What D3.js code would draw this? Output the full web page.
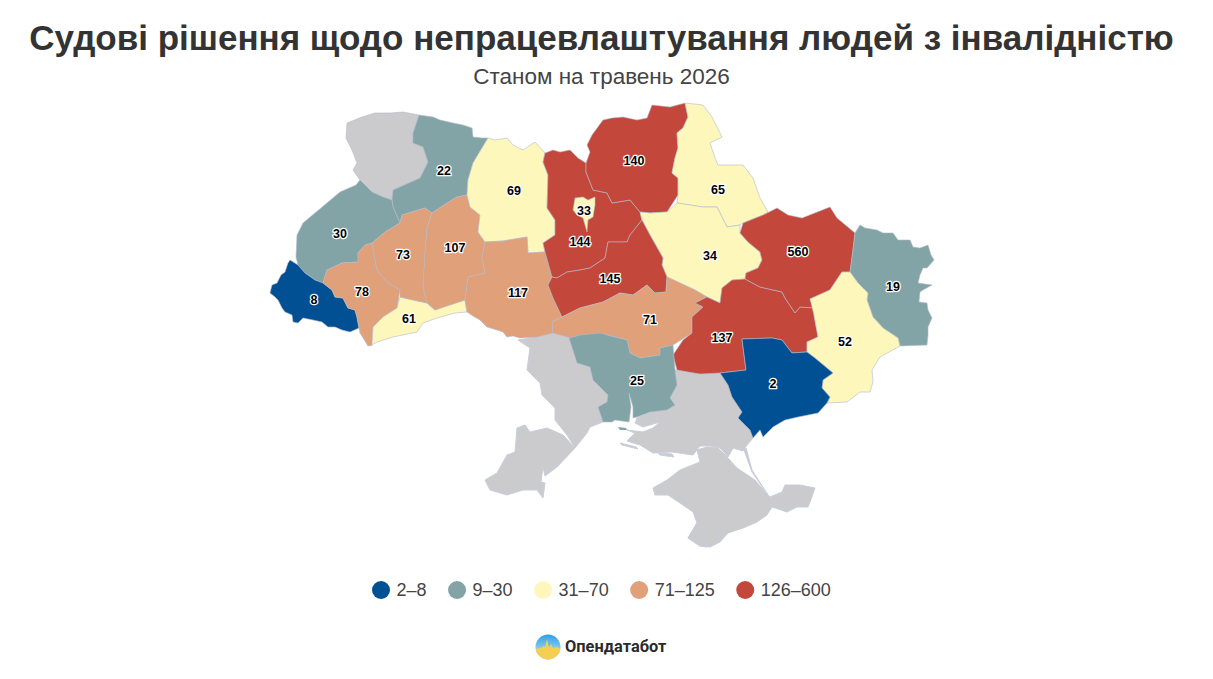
<!DOCTYPE html>
<html>
<head>
<meta charset="utf-8">
<script src="https://cdn.jsdelivr.net/npm/d3@7"></script>
<style>
  html, body { margin: 0; background: #fff; }
  svg { display: block; font-family: "Liberation Sans", Arial, sans-serif; }
</style>
</head>
<body>
<svg id="chart" width="1213" height="679"></svg>
<script>
const titleText = "Судові рішення щодо непрацевлаштування людей з інвалідністю";
const subtitleText = "Станом на травень 2026";

const regionNames = ["Волинська", "Рівненська", "Львівська", "Закарпатська", "Івано-Франківська",
  "Чернівецька", "Тернопільська", "Хмельницька", "Житомирська", "Вінницька", "Київська", "Київ",
  "Чернігівська", "Сумська", "Полтавська", "Черкаська", "Кіровоградська", "Дніпропетровська",
  "Харківська", "Луганська", "Донецька", "Запорізька", "Миколаївська"];
const regionValues = [null, 22, 30, 8, 78, 61, 73, 107, 69, 117, 144, 33, 140, 65, 34, 145, 71, 137, 560, 19, 52, 2, 25];

const legendLabels = ["2–8", "9–30", "31–70", "71–125", "126–600"];
const legendBreaks = [9, 31, 71, 126];
const legendColors = ["#005093", "#82a4a6", "#fef7bc", "#e0a07a", "#c4473b"];
const noDataColor = "#cbcbcd";

// outlines, in map units
const outlines = {
  "Волинська": [[347,123],[362,117],[375,113],[390,113],[403,112],[419,115],[413,133],[413,143],[423,147],[428,162],[420,178],[393,190],[392,200],[383,197],[372,192],[360,180],[353,170],[357,163],[352,150],[346,138]],
  "Рівненська": [[419,115],[433,117],[440,120],[453,123],[463,125],[472,128],[473,137],[482,138],[488,138],[482,148],[473,163],[468,180],[467,195],[457,197],[447,203],[432,213],[425,208],[402,215],[400,223],[393,207],[392,200],[393,190],[420,178],[428,162],[423,147],[413,143],[413,133]],
  "Львівська": [[296,257],[298,265],[305,273],[315,280],[323,283],[327,270],[342,263],[358,262],[358,253],[365,245],[372,243],[385,232],[400,223],[393,207],[392,200],[383,197],[372,192],[360,180],[356,185],[340,192],[327,203],[303,223],[297,235]],
  "Закарпатська": [[290,260],[298,265],[305,273],[315,280],[323,283],[332,290],[335,297],[343,298],[348,308],[355,310],[357,317],[359,328],[350,332],[342,330],[335,327],[328,327],[322,322],[313,320],[303,318],[298,323],[293,322],[292,315],[285,312],[282,308],[278,300],[275,297],[270,293],[272,285],[277,283],[281,275],[285,272],[288,263]],
  "Івано-Франківська": [[323,283],[327,270],[342,263],[358,262],[358,253],[365,245],[372,243],[375,260],[377,270],[387,282],[400,290],[397,308],[383,317],[373,327],[372,345],[368,346],[360,333],[359,328],[357,317],[355,310],[348,308],[343,298],[335,297],[332,290]],
  "Чернівецька": [[400,297],[413,300],[427,303],[435,310],[448,305],[465,300],[467,312],[455,313],[437,318],[423,323],[417,332],[393,337],[377,342],[370,346],[372,345],[373,327],[383,317],[397,308]],
  "Тернопільська": [[372,243],[385,232],[400,223],[402,215],[425,208],[432,213],[427,228],[425,253],[423,287],[427,303],[413,300],[400,297],[400,290],[387,282],[377,270],[375,260]],
  "Хмельницька": [[432,213],[447,203],[457,197],[467,195],[470,207],[480,215],[478,232],[485,242],[482,257],[485,273],[468,277],[465,300],[435,310],[427,303],[423,287],[425,253],[427,228]],
  "Житомирська": [[488,138],[495,140],[507,138],[513,145],[523,150],[535,142],[545,153],[543,162],[548,175],[547,208],[555,220],[555,235],[543,243],[545,252],[528,253],[527,237],[503,241],[485,242],[478,232],[480,215],[470,207],[467,195],[468,180],[473,163],[482,148]],
  "Вінницька": [[485,242],[503,241],[527,237],[528,253],[545,252],[552,277],[548,285],[553,298],[562,317],[552,322],[553,333],[537,337],[520,338],[513,336],[507,337],[503,332],[497,330],[487,327],[480,320],[473,316],[467,312],[465,300],[468,277],[485,273],[482,257]],
  "Київська": [[545,153],[553,150],[560,152],[570,150],[578,158],[586,163],[586,172],[593,190],[607,193],[612,203],[630,200],[640,212],[642,220],[630,235],[627,242],[608,242],[605,258],[590,268],[580,270],[567,272],[557,278],[552,277],[545,252],[543,243],[555,235],[555,220],[547,208],[548,175],[543,162]],
  "Київ": [[575,198],[583,197],[588,200],[595,197],[595,205],[593,217],[588,220],[587,232],[583,218],[577,215],[573,210]],
  "Чернігівська": [[586,163],[590,152],[587,145],[592,135],[603,120],[612,118],[623,117],[637,120],[647,118],[652,105],[670,107],[685,103],[688,117],[683,128],[677,133],[678,148],[675,158],[672,173],[678,178],[678,195],[667,212],[650,213],[640,212],[630,200],[612,203],[607,193],[593,190],[586,172]],
  "Сумська": [[685,103],[703,105],[712,117],[722,137],[710,143],[715,158],[718,165],[743,165],[753,178],[760,198],[768,212],[763,215],[743,223],[740,225],[727,227],[717,207],[703,207],[677,203],[678,195],[678,178],[672,173],[675,158],[678,148],[677,133],[683,128],[688,117]],
  "Полтавська": [[640,212],[650,213],[667,212],[677,203],[703,207],[717,207],[727,227],[740,225],[740,233],[748,242],[760,252],[762,260],[758,268],[746,273],[745,279],[732,280],[722,288],[720,303],[707,297],[695,290],[680,283],[667,277],[662,265],[663,258],[650,235],[642,220]],
  "Черкаська": [[642,220],[650,235],[663,258],[662,265],[667,277],[666,292],[655,293],[647,285],[633,295],[620,293],[603,302],[580,308],[562,317],[553,298],[548,285],[552,277],[557,278],[567,272],[580,270],[590,268],[605,258],[608,242],[627,242],[630,235]],
  "Кіровоградська": [[552,322],[562,317],[580,308],[603,302],[620,293],[633,295],[647,285],[655,293],[666,292],[667,277],[680,283],[695,290],[707,297],[695,303],[703,307],[692,317],[692,333],[673,345],[660,348],[660,355],[640,358],[630,353],[627,340],[607,335],[580,335],[570,338],[553,333]],
  "Дніпропетровська": [[720,303],[722,288],[732,280],[745,279],[760,287],[773,290],[782,292],[785,298],[795,313],[800,307],[815,308],[814,315],[818,337],[807,342],[807,352],[792,353],[782,340],[772,338],[742,339],[746,370],[720,373],[700,374],[688,372],[677,370],[673,355],[683,340],[692,333],[692,317],[703,307],[695,303],[707,297]],
  "Харківська": [[740,233],[743,223],[763,215],[777,208],[788,215],[802,218],[830,207],[837,218],[855,233],[853,250],[850,272],[842,272],[830,290],[810,299],[815,308],[800,307],[795,313],[785,298],[782,292],[773,290],[760,287],[745,279],[746,273],[758,268],[762,260],[760,252],[748,242]],
  "Луганська": [[850,272],[853,250],[855,233],[860,225],[865,228],[877,230],[883,233],[893,233],[898,240],[910,240],[913,247],[920,248],[928,245],[931,255],[934,260],[927,268],[923,268],[920,275],[918,283],[932,285],[923,290],[920,292],[919,302],[927,303],[928,310],[932,318],[928,327],[928,335],[927,345],[900,346],[898,338],[883,328],[873,317],[867,300],[868,293],[858,283]],
  "Донецька": [[850,272],[858,283],[868,293],[867,300],[873,317],[883,328],[898,338],[900,346],[880,357],[872,370],[873,382],[870,392],[860,392],[847,402],[827,403],[830,397],[822,388],[823,380],[833,373],[815,358],[807,352],[807,342],[818,337],[814,315],[810,299],[830,290],[842,272]],
  "Запорізька": [[742,339],[772,338],[782,340],[792,353],[807,352],[815,358],[833,373],[823,380],[822,388],[830,397],[827,403],[818,413],[808,415],[798,417],[785,420],[773,427],[763,437],[760,430],[753,438],[750,430],[738,418],[742,412],[732,397],[728,385],[720,373],[746,370]],
  "Миколаївська": [[569,338],[580,335],[600,333],[607,335],[627,340],[630,353],[640,358],[660,355],[660,348],[673,345],[675,370],[677,385],[670,398],[675,405],[667,410],[650,412],[637,417],[633,418],[633,407],[629,393],[631,407],[629,422],[615,420],[612,422],[603,422],[598,407],[607,402],[608,395],[593,380],[590,367],[577,363]]
};

const greyOutlines = [
  // Одеська
  [[518,340],[530,348],[527,370],[540,383],[542,395],[555,408],[555,420],[567,435],[575,448],[563,435],[547,428],[530,432],[525,425],[517,428],[515,452],[507,455],[497,473],[485,480],[490,490],[507,495],[523,490],[537,490],[543,498],[545,483],[541,482],[543,467],[545,476],[557,467],[575,448],[587,433],[590,427],[603,422],[598,407],[607,402],[608,395],[593,380],[590,367],[577,363],[569,338],[553,333],[537,337]],
  // Херсонська
  [[637,418],[650,412],[667,410],[675,405],[670,398],[677,385],[675,370],[697,373],[720,373],[728,385],[732,397],[742,412],[738,418],[750,430],[753,438],[747,445],[743,451],[733,448],[728,457],[720,448],[710,446],[700,446],[693,455],[672,452],[653,453],[640,445],[627,441],[635,433],[627,430],[643,432],[653,428],[660,422],[643,427],[635,423]],
  // Крим
  [[653,488],[667,480],[680,470],[700,462],[697,450],[707,447],[718,448],[728,458],[737,468],[743,472],[755,480],[768,495],[770,497],[782,492],[785,485],[800,485],[815,488],[810,502],[808,507],[797,507],[787,512],[772,507],[767,515],[757,522],[743,528],[728,533],[720,542],[710,547],[700,546],[688,538],[697,523],[693,512],[680,503],[668,495],[655,495]],
  // Севастополь
  [[688,538],[697,523],[700,530],[705,540],[707,547],[700,546]],
  // Арабатська стрілка, острови
  [[746,448],[752,470],[768,495],[752,472],[744,450]],
  [[620,443],[636,447],[638,449],[622,445]],
  [[658,453],[672,454],[674,457],[660,455]]
];

const kinburn = [[618,427],[626,428],[627,430],[620,430]];

const labelPoints = {
  "Рівненська": [444,171], "Львівська": [340,234], "Закарпатська": [314,300], "Івано-Франківська": [362,292],
  "Чернівецька": [409,319], "Тернопільська": [403,255], "Хмельницька": [455,248], "Житомирська": [514,191],
  "Вінницька": [518,293], "Київська": [580,242], "Київ": [584,211], "Чернігівська": [634,161],
  "Сумська": [718,190], "Полтавська": [710,256], "Черкаська": [610,279], "Кіровоградська": [650,320],
  "Дніпропетровська": [722,338], "Харківська": [798,252], "Луганська": [893,287], "Донецька": [845,342],
  "Запорізька": [773,384], "Миколаївська": [637,381]
};

const logoPulse = [[-13,2],[-7,1],[-5,-1],[-3,0],[-1,-8],[1,1],[3,-3],[5,1],[8,0],[13,2]];

const svg = d3.select("#chart");
const projection = d3.geoIdentity();
const path = d3.geoPath(projection);
const color = d3.scaleThreshold().domain(legendBreaks).range(legendColors);
const polygon = (pts) => ({ type: "Feature", geometry: { type: "Polygon", coordinates: [pts.concat([pts[0]])] } });

svg.append("text").attr("x", 601.5).attr("y", 50)
  .attr("text-anchor", "middle")
  .style("font-size", "35px").style("font-weight", "bold").attr("fill", "#333")
  .text(titleText);
svg.append("text").attr("x", 601.5).attr("y", 83.5)
  .attr("text-anchor", "middle")
  .style("font-size", "22.5px").attr("fill", "#444")
  .text(subtitleText);

const map = svg.append("g");

map.selectAll(".grey").data(greyOutlines).join("path")
  .attr("class", "grey")
  .attr("d", (d) => path(polygon(d)))
  .attr("fill", noDataColor)
  .attr("stroke", "#c8cedd").attr("stroke-width", 1).attr("stroke-linejoin", "round");

const regions = regionNames.map((name, i) => ({ name, value: regionValues[i], pts: outlines[name] }));

map.selectAll(".region").data(regions).join("path")
  .attr("class", "region")
  .attr("d", (d) => path(polygon(d.pts)))
  .attr("fill", (d) => d.value === null ? noDataColor : color(d.value))
  .attr("stroke", "#b4b9c9").attr("stroke-opacity", 0.6).attr("stroke-width", 1).attr("stroke-linejoin", "round");

map.append("path").attr("d", path(polygon(kinburn))).attr("fill", legendColors[1]);

// Київ has to stay on top of the oblast around it
map.selectAll(".region").filter((d) => d.name === "Київ").raise();

svg.append("g").selectAll("text")
  .data(regions.filter((d) => d.value !== null))
  .join("text")
  .attr("x", (d) => projection(labelPoints[d.name])[0])
  .attr("y", (d) => projection(labelPoints[d.name])[1])
  .attr("dy", "0.35em")
  .attr("text-anchor", "middle")
  .style("font-size", "12.5px").style("font-weight", "bold")
  .style("paint-order", "stroke")
  .attr("fill", "#000").attr("stroke", "#fff").attr("stroke-width", 2.5).attr("stroke-linejoin", "round")
  .text((d) => d.value);

// legend, each item is as wide as its text
const legend = svg.append("g").attr("transform", "translate(381,590)");
let legendX = 0;
legendLabels.forEach((label, i) => {
  const item = legend.append("g").attr("transform", `translate(${legendX},0)`);
  item.append("circle").attr("r", 9).attr("fill", legendColors[i]);
  const t = item.append("text").attr("x", 15.5).attr("dy", "0.35em")
    .style("font-size", "18px").attr("fill", "#444").text(label);
  legendX += 15.5 + t.node().getComputedTextLength() + 30.5;
});

// logo
const defs = svg.append("defs");
const blue = defs.append("linearGradient").attr("id", "logoBlue").attr("x1", 0).attr("x2", 0).attr("y1", 0).attr("y2", 1);
blue.append("stop").attr("offset", "0%").attr("stop-color", "#2f9fe6");
blue.append("stop").attr("offset", "60%").attr("stop-color", "#8bd0ee");
defs.append("clipPath").attr("id", "logoClip").append("circle").attr("r", 12.5);
const logo = svg.append("g").attr("transform", "translate(548,647)");
logo.append("circle").attr("r", 12.5).attr("fill", "url(#logoBlue)");
logo.append("path")
  .attr("clip-path", "url(#logoClip)")
  .attr("d", d3.area().x((d) => d[0]).y0(13).y1((d) => d[1])(logoPulse))
  .attr("fill", "#f5cf52");
svg.append("text").attr("x", 565).attr("y", 652)
  .style("font-family", "Roboto, sans-serif").style("font-size", "16.4px").style("font-weight", "bold")
  .attr("fill", "#2b2b2b").text("Опендатабот");
</script>
</body>
</html>
